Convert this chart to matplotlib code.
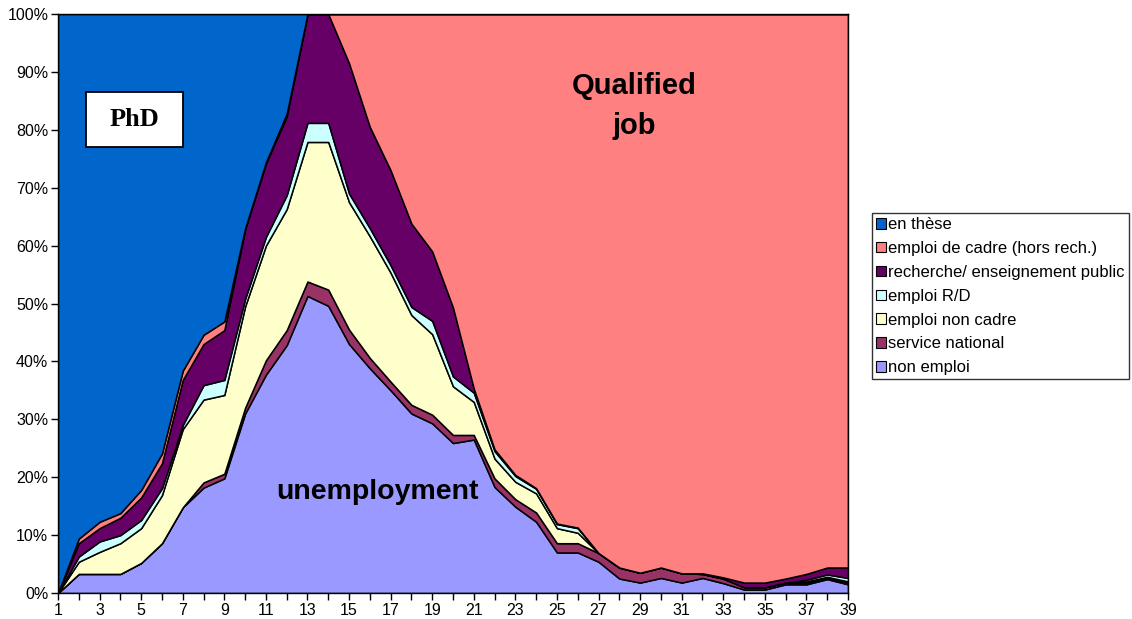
import matplotlib
matplotlib.use("Agg")
import matplotlib.pyplot as plt
from matplotlib.patches import Patch, Rectangle
from matplotlib.ticker import FixedLocator, FuncFormatter

months = list(range(1, 40))

non_emploi = [0, 3.3, 3.3, 3.3, 5.2, 8.6, 14.8, 18.2, 19.8, 31.0, 37.7, 42.8, 51.3, 49.6,
              43.0, 38.8, 35.0, 31.0, 29.3, 25.9, 26.5, 18.3, 14.9, 12.3, 7.0, 7.0, 5.4,
              2.5, 1.8, 2.6, 1.8, 2.6, 1.7, 0.6, 0.6, 1.5, 1.5, 2.4, 1.5]
service_national = [0, 0, 0, 0, 0, 0, 0, 0.9, 0.8, 1.0, 2.5, 2.6, 2.5, 2.8, 2.5, 1.8, 1.5,
                    1.5, 1.5, 1.4, 0.8, 1.5, 1.3, 1.6, 1.6, 1.6, 1.5, 1.9, 1.7, 1.8, 1.6,
                    0.7, 0.8, 0.4, 0.4, 0.3, 0.3, 0.2, 0.3]
emploi_non_cadre = [0, 2.1, 3.8, 5.3, 6.0, 8.3, 13.5, 14.3, 13.6, 17.5, 19.8, 20.9, 24.1,
                    25.5, 22.0, 21.0, 18.8, 15.5, 13.9, 8.4, 5.7, 3.4, 3.0, 3.3, 2.6, 1.8,
                    0, 0, 0, 0, 0, 0, 0, 0, 0, 0, 0.2, 0.2, 0.2]
emploi_rd = [0, 0.9, 1.8, 1.4, 1.4, 1.2, 0.7, 2.5, 2.6, 1.3, 1.5, 2.4, 3.3, 3.3, 1.5, 1.4,
             1.3, 1.4, 2.3, 1.7, 1.6, 1.3, 1.0, 0.8, 0.7, 0.8, 0, 0, 0, 0, 0, 0, 0, 0, 0,
             0, 0.3, 0.4, 0.6]
recherche = [0, 2.3, 2.3, 3.0, 3.9, 4.3, 7.8, 7.1, 8.6, 12.0, 12.7, 13.6, 18.8, 18.8, 22.5,
             17.5, 16.4, 14.4, 12.0, 11.9, 0.7, 0.3, 0.2, 0.1, 0.1, 0.1, 0, 0, 0, 0, 0,
             0.1, 0.2, 0.8, 0.8, 0.7, 1.0, 1.2, 1.8]
emploi_cadre = [0, 0.8, 1.1, 0.8, 1.3, 1.7, 1.6, 1.6, 1.5, 0.2, 0.2, 0.5, 0, 0, 8.5, 19.5,
                27.0, 36.2, 41.0, 50.7, 64.7, 75.2, 79.6, 81.9, 88.0, 88.7, 93.1, 95.6,
                96.5, 95.6, 96.6, 96.6, 97.3, 98.2, 98.2, 97.5, 96.7, 95.6, 95.6]
en_these = [100, 90.6, 87.7, 86.2, 82.2, 75.9, 61.6, 55.4, 53.1, 37.0, 25.6, 17.2, 0, 0,
            0, 0, 0, 0, 0, 0, 0, 0, 0, 0, 0, 0, 0, 0, 0, 0, 0, 0, 0, 0, 0, 0, 0, 0, 0]

labels = ["non emploi", "service national", "emploi non cadre", "emploi R/D",
          "recherche/ enseignement public", "emploi de cadre (hors rech.)", "en thèse"]
colors = ["#9999FF", "#993366", "#FFFFCC", "#CCFFFF", "#660066", "#FF8080", "#0066CC"]
series = [non_emploi, service_national, emploi_non_cadre, emploi_rd, recherche,
          emploi_cadre, en_these]

W, H = 1132, 619
fig = plt.figure(figsize=(W / 100, H / 100), dpi=100)
L, R, T, B = 58, 848, 14, 593
ax = fig.add_axes([L / W, (H - B) / H, (R - L) / W, (B - T) / H])

ax.stackplot(months, *series, colors=colors, edgecolor="black", linewidth=1.1)

ax.set_xlim(1, 39)
ax.set_ylim(0, 100)
ax.xaxis.set_major_locator(FixedLocator(months))
ax.set_xticklabels([str(m) if m % 2 == 1 else "" for m in months])
ax.yaxis.set_major_locator(FixedLocator(list(range(0, 101, 10))))
ax.yaxis.set_major_formatter(FuncFormatter(lambda v, p: f"{int(v)}%"))
ax.tick_params(axis="both", direction="out", length=5, width=1, color="black",
               labelsize=11.5, pad=2)
for lab in ax.get_xticklabels() + ax.get_yticklabels():
    lab.set_fontfamily("Liberation Sans")
for s in ax.spines.values():
    s.set_color("black")
    s.set_linewidth(1)


def fx(px):
    return px / W


def fy(py):
    return 1 - py / H


# PhD label box
fig.patches.append(Rectangle((fx(86), fy(147)), fx(183) - fx(86), fy(92) - fy(147),
                             transform=fig.transFigure, facecolor="white",
                             edgecolor="black", linewidth=1.3, zorder=5))
fig.text(fx(134.5), fy(120), "PhD", family="Liberation Serif", fontweight="bold",
         fontsize=19, ha="center", va="center", zorder=6)

fig.text(fx(634.5), fy(106), "Qualified\njob", family="Liberation Sans", fontweight="bold",
         fontsize=21, ha="center", va="center", linespacing=1.5, zorder=6)
fig.text(fx(377.5), fy(492), "unemployment", family="Liberation Sans", fontweight="bold",
         fontsize=20.5, ha="center", va="center", zorder=6)

handles = [Patch(facecolor=c, edgecolor="black", linewidth=0.8) for c in colors][::-1]
leg = fig.legend(handles, labels[::-1], loc="upper left",
                 bbox_to_anchor=(fx(872), fy(213)), frameon=True, fancybox=False,
                 prop={"family": "Liberation Sans", "size": 12},
                 handlelength=0.6, handleheight=0.6, handletextpad=0.1,
                 labelspacing=0.53, borderpad=0.25, borderaxespad=0)
leg.get_frame().set_edgecolor("black")
leg.get_frame().set_linewidth(1)

fig.savefig("out.png", dpi=100)
